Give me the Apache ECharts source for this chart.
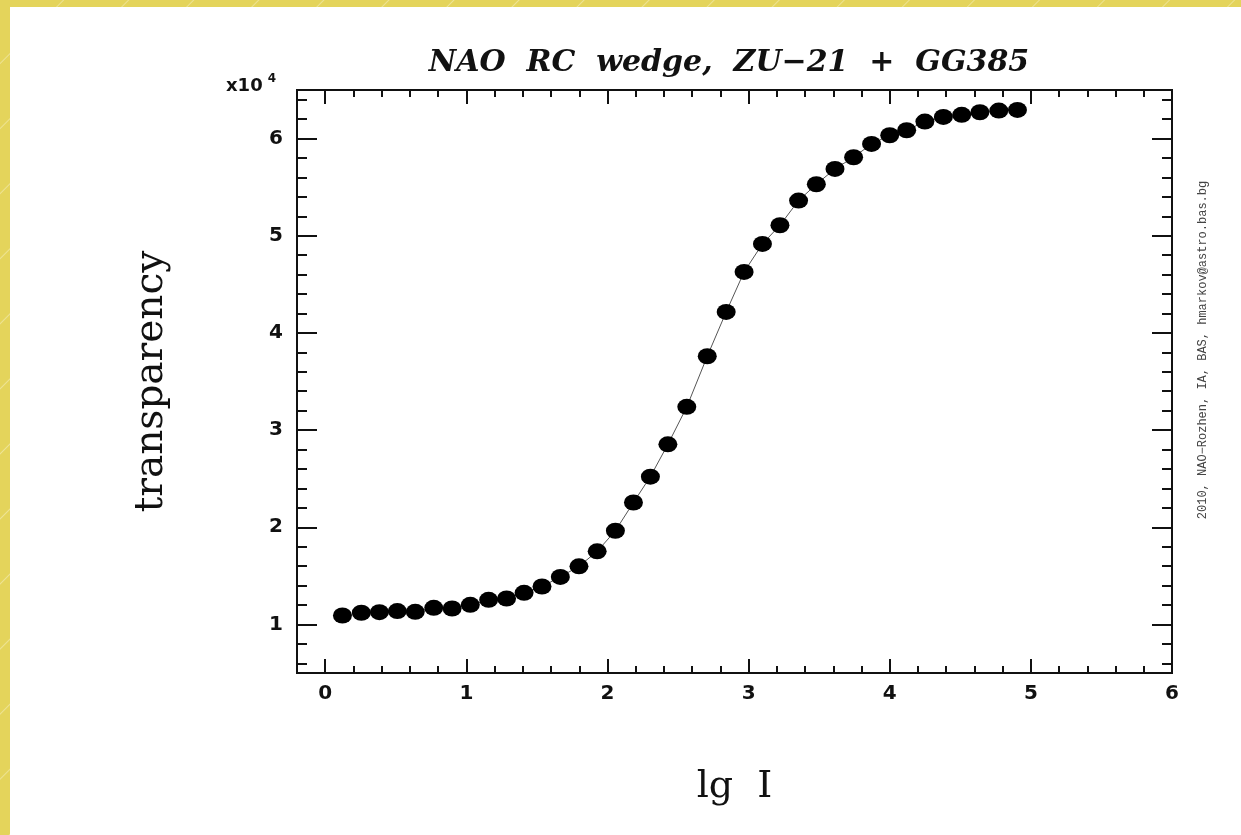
<!DOCTYPE html>
<html>

<head>
  <meta charset="UTF-8">
  <title>NAO RC wedge</title>
  <script src="https://cdn.jsdelivr.net/npm/echarts@6/dist/echarts.min.js"></script>
  <style>
    html, body {
      margin: 0;
      padding: 0;
      width: 1241px;
      height: 835px;
      overflow: hidden;
      background: #e4d45b repeating-linear-gradient(135deg, rgba(255,255,255,0) 0px, rgba(255,255,255,0) 44px, rgba(255,255,255,0.35) 45px, rgba(255,255,255,0) 46px);
    }

    #panel {
      position: absolute;
      left: 10px;
      top: 7px;
      right: 0;
      bottom: 0;
      background: #fff;
    }

    #chart {
      position: absolute;
      left: 0;
      top: 0;
      width: 1241px;
      height: 835px;
    }
  </style>
</head>

<body>
  <div id="panel"></div>
  <div id="chart"></div>

  <script>
    // lg I and transparency
    var lgI = [0.122, 0.256, 0.384, 0.511, 0.638, 0.769, 0.899, 1.028, 1.158, 1.285,
      1.409, 1.536, 1.666, 1.798, 1.927, 2.056, 2.184, 2.304, 2.428, 2.562,
      2.707, 2.841, 2.968, 3.098, 3.222, 3.354, 3.480, 3.612, 3.744, 3.871,
      4.000, 4.120, 4.249, 4.380, 4.510, 4.639, 4.773, 4.905];
    var transparency = [10920, 11200, 11260, 11370, 11300, 11710, 11640, 12020, 12530, 12670,
      13250, 13900, 14890, 15980, 17520, 19640, 22550, 25210, 28530, 32390,
      37600, 42160, 46280, 49160, 51080, 53620, 55300, 56880, 58080, 59450,
      60340, 60860, 61750, 62230, 62440, 62710, 62880, 62950];

    var xMajor = [0, 1, 2, 3, 4, 5, 6];
    var yMajor = [10000, 20000, 30000, 40000, 50000, 60000];
    var xMinor = [];
    for (var i = -1; i <= 30; i++) xMinor.push(+(i * 0.2).toFixed(1));
    var yMinor = [];
    for (var j = 3; j <= 32; j++) yMinor.push(j * 2000);

    var chartTitle = 'NAO  RC  wedge,  ZU\u221221  +  GG385';
    var credit = '2010, NAO\u2212Rozhen, IA, BAS, hmarkov@astro.bas.bg';

    var points = [];
    for (var k = 0; k < lgI.length; k++) points.push([lgI[k], transparency[k]]);

    var chart = echarts.init(document.getElementById('chart'), null, { renderer: 'canvas' });

    var frameLine = { show: true, onZero: false, lineStyle: { color: '#111', width: 2 } };

    function xAxis(pos, ticks, len, labels) {
      return {
        type: 'value', position: pos, min: -0.2, max: 6,
        axisLine: frameLine,
        splitLine: { show: false },
        axisTick: { show: true, inside: true, length: len, customValues: ticks, lineStyle: { color: '#111', width: 2 } },
        axisLabel: labels ? {
          show: true, customValues: xMajor, margin: 11, color: '#111',
          fontFamily: 'DejaVu Sans', fontWeight: 'bold', fontSize: 20
        } : { show: false }
      };
    }

    function yAxis(pos, ticks, len, labels) {
      return {
        type: 'value', position: pos, min: 5000, max: 65000,
        axisLine: frameLine,
        splitLine: { show: false },
        axisTick: { show: true, inside: true, length: len, customValues: ticks, lineStyle: { color: '#111', width: 2 } },
        axisLabel: labels ? {
          show: true, customValues: yMajor, margin: 14, color: '#111',
          fontFamily: 'DejaVu Sans', fontWeight: 'bold', fontSize: 20,
          formatter: function (v) { return String(v / 10000); }
        } : { show: false }
      };
    }

    var xs = [xAxis('bottom', xMajor, 14, true), xAxis('bottom', xMinor, 7, false),
      xAxis('top', xMajor, 14, false), xAxis('top', xMinor, 7, false)];
    xs[0].name = 'lg  I';
    xs[0].nameLocation = 'middle';
    xs[0].nameGap = 95;
    xs[0].nameTextStyle = { fontFamily: 'DejaVu Serif', fontSize: 38, color: '#111' };

    var ys = [yAxis('left', yMajor, 20, true), yAxis('left', yMinor, 10, false),
      yAxis('right', yMajor, 20, false), yAxis('right', yMinor, 10, false)];
    ys[0].name = 'transparency';
    ys[0].nameLocation = 'middle';
    ys[0].nameGap = 126;
    ys[0].nameRotate = 90;
    ys[0].nameTextStyle = { fontFamily: 'DejaVu Serif', fontSize: 39, color: '#111' };

    chart.setOption({
      animation: false,
      backgroundColor: 'transparent',
      title: {
        text: chartTitle,
        left: 724,
        top: 43,
        textAlign: 'center',
        textStyle: { fontFamily: 'DejaVu Serif', fontStyle: 'italic', fontWeight: 'bold', fontSize: 30, color: '#111' }
      },
      grid: { left: 297, top: 90, width: 875, height: 583, containLabel: false, outerBoundsMode: 'none' },
      xAxis: xs,
      yAxis: ys,
      graphic: [
        {
          type: 'text', left: 226, top: 73,
          style: {
            text: '{a|x10}{b|4}',
            rich: {
              a: { fontFamily: 'DejaVu Sans', fontWeight: 'bold', fontSize: 18, fill: '#111', verticalAlign: 'bottom' },
              b: { fontFamily: 'DejaVu Sans', fontWeight: 'bold', fontSize: 12, fill: '#111', verticalAlign: 'top', padding: [0, 0, 10, 5] }
            }
          }
        },
        {
          type: 'text', x: 1203, y: 350, rotation: Math.PI / 2,
          style: {
            text: credit, fill: '#444', align: 'center', verticalAlign: 'middle',
            fontFamily: 'Liberation Mono', fontSize: 12
          }
        }
      ],
      series: [{
        type: 'line',
        data: points,
        xAxisIndex: 0,
        yAxisIndex: 0,
        symbol: 'circle',
        symbolSize: [19, 16],
        showSymbol: true,
        itemStyle: { color: '#000' },
        lineStyle: { color: '#555', width: 1 },
        z: 3
      }]
    });
  </script>
</body>

</html>
